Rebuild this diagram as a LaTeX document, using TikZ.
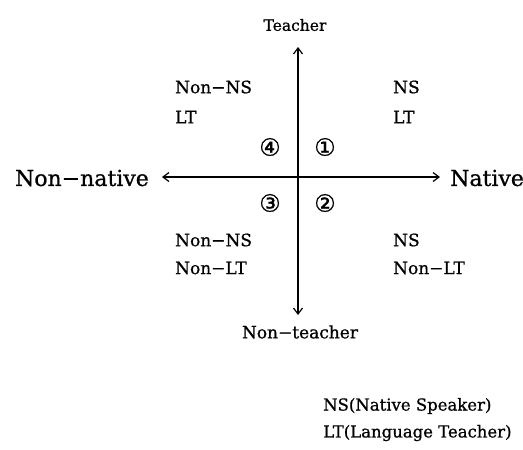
\documentclass[tikz,border=0pt]{standalone}
\usepackage{fontspec}
\setmainfont[FakeBold=0.8]{DejaVu Serif}
\newfontfamily\circfont[FakeBold=0.8]{DejaVu Sans}
\usetikzlibrary{arrows.meta}
\tikzset{
  lbl/.style={inner sep=0pt, font=\fontsize{17}{20}\selectfont},
  big/.style={inner sep=0pt, font=\fontsize{22}{26}\selectfont},
  small/.style={inner sep=0pt, font=\fontsize{16.5}{20}\selectfont},
  num/.style={inner sep=0pt, font=\circfont\fontsize{24}{28}\selectfont},
  axis/.style={line width=1.2pt, {Straight Barb[length=6pt,width=9pt]}-{Straight Barb[length=6pt,width=9pt]}}
}
\begin{document}
\begin{tikzpicture}[x=1pt,y=-1pt]
\useasboundingbox (0,0) rectangle (523,450);
% axis end points
\coordinate (tt) at (298,47);
\coordinate (tb) at (298,315);
\coordinate (tl) at (162,177);
\coordinate (tr) at (440,177);
\draw[axis] (tl) -- (tr);
\draw[axis] (tb) -- (tt);
% axis labels
\node[lbl, font=\fontsize{15.5}{18}\selectfont] (teacher) at (295,25) {Teacher};
\node[lbl] (nonteacher) at (300,332) {Non−teacher};
\node[big, anchor=east] (nonnative) at (149,178) {Non−native};
\node[big, anchor=west] (native) at (450,178) {Native};
% quadrant labels
\node[lbl, anchor=west] (q4a) at (175,87) {Non−NS};
\node[lbl, anchor=west] (q4b) at (175,117) {LT};
\node[lbl, anchor=west] (q1a) at (393,87) {NS};
\node[lbl, anchor=west] (q1b) at (393,117) {LT};
\node[lbl, anchor=west] (q3a) at (175,240) {Non−NS};
\node[lbl, anchor=west] (q3b) at (175,268) {Non−LT};
\node[lbl, anchor=west] (q2a) at (393,240) {NS};
\node[lbl, anchor=west] (q2b) at (393,268) {Non−LT};
% numbers
\node[num] (n4) at (270,147) {④};
\node[num] (n1) at (325,147) {①};
\node[num] (n3) at (270,203) {③};
\node[num] (n2) at (325,203) {②};
% legend
\node[small, anchor=west] (leg1) at (323,406) {NS(Native Speaker)};
\node[small, anchor=west] (leg2) at (323,433) {LT(Language Teacher)};
\end{tikzpicture}
\end{document}
